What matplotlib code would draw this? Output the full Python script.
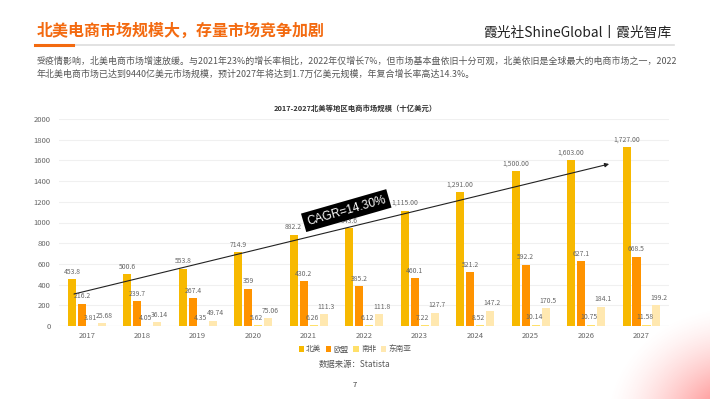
import numpy as np
import matplotlib.pyplot as plt
from matplotlib.lines import Line2D
from matplotlib.patches import Patch

plt.rcParams['font.family'] = ['Noto Sans CJK SC', 'DejaVu Sans']

# ---------------------------------------------------------------- data
years = ["2017", "2018", "2019", "2020", "2021", "2022",
         "2023", "2024", "2025", "2026", "2027"]
series_names = ["北美", "欧盟", "南非", "东南亚"]

north_america = [453.8, 500.6, 553.8, 714.9, 882.2, 943.6,
                 1115.0, 1291.0, 1500.0, 1603.0, 1727.0]
eu = [216.2, 239.7, 267.4, 359, 430.2, 385.2,
      460.1, 521.2, 592.2, 627.1, 668.5]
south_africa = [3.81, 4.05, 4.35, 5.62, 6.26, 6.12,
                7.22, 8.52, 10.14, 10.75, 11.58]
se_asia = [25.68, 36.14, 49.74, 75.06, 111.3, 111.8,
           127.7, 147.2, 170.5, 184.1, 199.2]

na_labels = ["453.8", "500.6", "553.8", "714.9", "882.2", "943.6",
             "1,115.00", "1,291.00", "1,500.00", "1,603.00", "1,727.00"]

y_ticks = [0, 200, 400, 600, 800, 1000, 1200, 1400, 1600, 1800, 2000]

# trend arrow (category index, value) and CAGR label
arrow_start = (-0.23, 309)
arrow_end = (9.42, 1565)
cagr_text = "CAGR=14.30%"
cagr_pos = (4.68, 1115)

title = "北美电商市场规模大，存量市场竞争加剧"
logo = "霞光社ShineGlobal丨霞光智库"
para1 = ("受疫情影响，北美电商市场增速放缓。与2021年23%的增长率相比，2022年仅增长7%，"
         "但市场基本盘依旧十分可观，北美依旧是全球最大的电商市场之一，2022")
para2 = "年北美电商市场已达到9440亿美元市场规模，预计2027年将达到1.7万亿美元规模，年复合增长率高达14.3%。"
chart_title = "2017-2027北美等地区电商市场规模（十亿美元）"
source = "数据来源：Statista"

colors = ["#F7B900", "#FF9300", "#FFE06A", "#FFE8B0"]

W, H = 710, 399
def fx(px): return px / W
def fy(py): return 1 - py / H

fig = plt.figure(figsize=(7.1, 3.99), dpi=100)
fig.patch.set_facecolor("white")

# soft red glow bottom-right
bg = fig.add_axes([0, 0, 1, 1], zorder=-5)
gx, gy = np.meshgrid(np.arange(W), np.arange(H))
d = np.sqrt(((gx - 735) / 130.0) ** 2 + ((gy - 420) / 115.0) ** 2)
alpha = np.clip(1 - d, 0, 1) ** 1.5 * 0.9
img = np.zeros((H, W, 4))
img[..., 0] = 1.0
img[..., 1] = 0.36
img[..., 2] = 0.36
img[..., 3] = alpha
bg.imshow(img, extent=[0, W, H, 0], aspect="auto")
bg.set_xlim(0, W)
bg.set_ylim(H, 0)
bg.axis("off")

# header
fig.text(fx(37), fy(31), title, color="#F36A10", fontsize=11.5,
         fontweight="bold", va="center", ha="left")
fig.text(fx(672), fy(33), logo, color="#222222", fontsize=9.9,
         va="center", ha="right")
fig.add_artist(Line2D([fx(35), fx(674)], [fy(44.5), fy(44.5)],
                      color="#DDDDDD", lw=1.2))
fig.add_artist(Line2D([fx(35), fx(73)], [fy(44.5), fy(44.5)],
                      color="#F36A10", lw=2.2))
fig.text(fx(37), fy(61.5), para1, color="#555555", fontsize=6.45,
         va="center", ha="left")
fig.text(fx(37), fy(74.5), para2, color="#555555", fontsize=6.45,
         va="center", ha="left")

# chart
ax = fig.add_axes([fx(59), fy(326), fx(669) - fx(59), fy(119) - fy(326)])
ax.set_facecolor("none")
x = np.arange(len(years))
step = 0.18
bw = 0.145
all_series = [north_america, eu, south_africa, se_asia]
label_dx = [0, 0, -1.4, 1.7]
for k, vals in enumerate(all_series):
    off = (k - 1.5) * step + 0.004
    ax.bar(x + off, vals, width=bw, color=colors[k], zorder=3)
    if k == 0:
        labels = na_labels
    else:
        labels = [f"{v:g}" for v in vals]
    for xi, v, lab in zip(x, vals, labels):
        ax.annotate(lab, (xi + off, v), xytext=(label_dx[k], 2.5),
                    textcoords="offset points", ha="center", va="bottom",
                    fontsize=4.9, color="#666666", zorder=4)

ax.set_xlim(-0.5, len(years) - 0.5)
ax.set_ylim(0, 2000)
ax.set_yticks(y_ticks)
ax.set_yticklabels([str(t) for t in y_ticks])
ax.set_xticks(x)
ax.set_xticklabels(years)
ax.tick_params(length=0, labelsize=5.5, colors="#666666")
ax.tick_params(axis="y", pad=6)
ax.tick_params(axis="x", pad=4)
ax.grid(axis="y", color="#F0F0F0", lw=0.8, zorder=0)
for s in ax.spines.values():
    s.set_visible(False)
ax.axhline(0, color="#E2E2E2", lw=0.8, zorder=2)

ax.annotate("", xy=arrow_end, xytext=arrow_start,
            arrowprops=dict(arrowstyle="-|>", color="#222222", lw=0.8,
                            mutation_scale=6, shrinkA=0, shrinkB=0),
            zorder=5)
ax.text(cagr_pos[0], cagr_pos[1], cagr_text, rotation=16, color="white",
        fontsize=8.6, ha="center", va="center", rotation_mode="anchor",
        family=["Liberation Sans", "DejaVu Sans"], zorder=6,
        bbox=dict(boxstyle="square,pad=0.3", fc="black", ec="none"))

fig.text(fx(355), fy(108), chart_title, fontsize=5.3, color="#333333",
         fontweight="bold", ha="center", va="center")

handles = [Patch(facecolor=c, edgecolor="none") for c in colors]
fig.legend(handles, series_names, loc="center", bbox_to_anchor=(fx(355), fy(349.5)),
           ncol=4, frameon=False, fontsize=5.5, handlelength=0.7,
           handleheight=0.7, handletextpad=0.3, columnspacing=0.6,
           labelcolor="#555555")
fig.text(fx(355), fy(364), source, fontsize=6, color="#555555",
         ha="center", va="center")
fig.text(fx(355), fy(385), "7", fontsize=5.5, color="#333333",
         ha="center", va="center")

fig.savefig("out.png", dpi=100)
